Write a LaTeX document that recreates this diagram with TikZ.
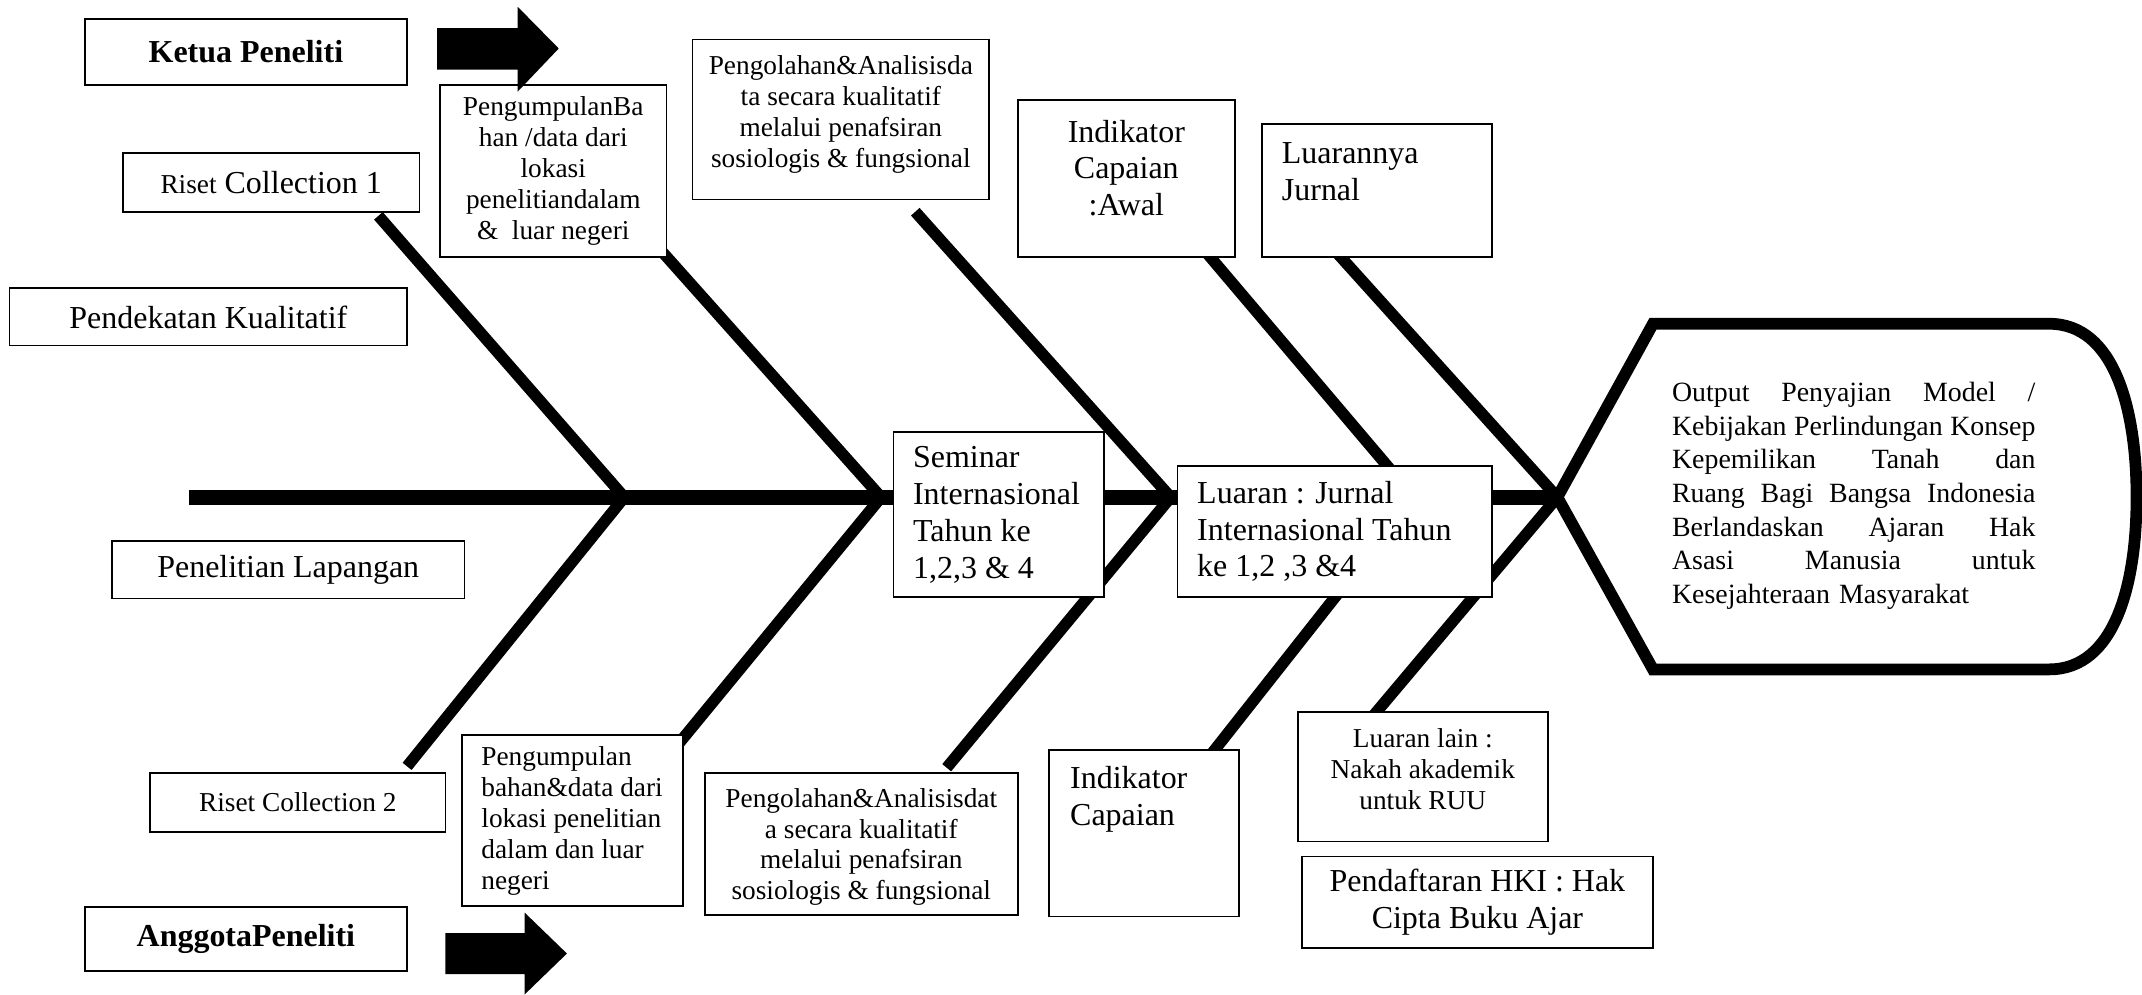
\documentclass[tikz,border=0pt]{standalone}
\usepackage{fontspec}
\setmainfont{Liberation Serif}
\newcommand\fntL{\fontsize{11.7pt}{13.5pt}\selectfont}
\newcommand\fntS{\fontsize{10pt}{11.3pt}\selectfont}
\newcommand\fntO{\fontsize{10.2pt}{12.3pt}\selectfont}
\newcommand\jline[1]{\leavevmode\hbox to 133pt{#1}}
\newcommand\bx[5]{\node[box, minimum width={(#4-#2)*0.5pt}, minimum height={(#5-#3)*0.5pt}] (#1) at ({(#2+#4)/2},{(#3+#5)/2}) {};}
\begin{document}
\begin{tikzpicture}[x=0.5pt,y=-0.5pt,
  box/.style={draw=black, line width=0.6pt, fill=white, inner sep=0pt},
  bone/.style={line width=4.2pt, line join=miter},
  spine/.style={line width=5.5pt},
  outline/.style={line width=4.3pt, fill=white, line join=miter},
  txtL/.style={inner sep=0pt, font=\fntL},
  txtS/.style={inner sep=0pt, font=\fntS},
  bigarrow/.style={fill=black, draw=none}]
\useasboundingbox (0,0) rectangle (1568,728);

% spine and junctions
\coordinate (S0) at (138,364);
\coordinate (J1) at (457,364);
\coordinate (J2) at (645,364);
\coordinate (J3) at (857,364);
\coordinate (J4) at (1035,364);
\coordinate (J5) at (1140,364);
% bone ends
\coordinate (U1) at (277,158);
\coordinate (U2) at (480,179);
\coordinate (U3) at (670,155);
\coordinate (U4) at (879,180);
\coordinate (U5) at (975,181);
\coordinate (L1) at (298,561);
\coordinate (L2) at (493,549);
\coordinate (L3) at (693,562);
\coordinate (L4) at (882,558);
\coordinate (L5) at (1001,529);

\draw[spine] (S0) -- (J5);
\draw[bone] (U1) -- (J1) -- (L1);
\draw[bone] (U2) -- (J2) -- (L2);
\draw[bone] (U3) -- (J3) -- (L3);
\draw[bone] (U4) -- (J4) -- (L4);
\draw[bone] (U5) -- (J5) -- (L5);

% boxes
\bx{ketua}{62}{14}{298}{62}
\node[txtL,font=\fntL\bfseries] at (ketua) {Ketua Peneliti};
\bx{riset1}{90}{112}{307}{155}
\node[txtL] at (riset1) {{\fntS Riset} Collection 1};
\bx{pend}{7}{211}{298}{253}
\node[txtL] at (pend) {Pendekatan Kualitatif};
\bx{lap}{82}{396}{340}{438}
\node[txtL] at (lap) {Penelitian Lapangan};
\bx{riset2}{110}{566}{326}{609}
\node[txtS] at (riset2) {Riset Collection 2};
\bx{anggota}{62}{664}{298}{711}
\node[txtL,font=\fntL\bfseries] at (anggota) {AnggotaPeneliti};
\bx{kump1}{322}{62}{488}{188}
\node[txtS,align=center] at (kump1) {PengumpulanBa\\han /data dari\\lokasi\\penelitiandalam\\\&\ \ luar negeri};
\bx{kump2}{338}{538}{500}{663}
\node[txtS,align=left,anchor=west] at (352,601) {Pengumpulan\\bahan\&data dari\\lokasi penelitian\\dalam dan luar\\negeri};
\bx{olah1}{507}{29}{724}{146}
\node[txtS,align=center] at (615.5,84) {Pengolahan\&Analisisda\\ta secara kualitatif\\melalui penafsiran\\sosiologis \& fungsional};
\bx{olah2}{516}{566}{745}{670}
\node[txtS,align=center] at (630.5,620) {Pengolahan\&Analisisdat\\a secara kualitatif\\melalui penafsiran\\sosiologis \& fungsional};
\bx{ind1}{745}{73}{904}{188}
\node[txtL,align=center] at (824.5,123) {Indikator\\Capaian\\:Awal};
\bx{jur}{924}{91}{1092}{188}
\node[txtL,align=left,anchor=west] at (938,126) {Luarannya\\Jurnal};
\bx{sem}{654}{316}{808}{437}
\node[txtL,align=left,anchor=west] at (668,377) {Seminar\\Internasional\\Tahun ke\\1,2,3 \& 4};
\bx{luar}{862}{341}{1092}{437}
\node[txtL,align=left,anchor=west] at (876,389) {Luaran : Jurnal\\Internasional Tahun\\ke 1,2 ,3 \&4};
\bx{ind2}{768}{549}{907}{671}
\node[txtL,align=left,anchor=west] at (783,585) {Indikator\\Capaian};
\bx{lain}{950}{521}{1133}{616}
\node[txtS,align=center] at (1041.5,563) {Luaran lain :\\Nakah akademik\\untuk RUU};
\bx{hki}{953}{627}{1210}{694}
\node[txtL,align=center] at (hki) {Pendaftaran HKI : Hak\\Cipta Buku Ajar};

% big arrows
\fill[bigarrow] (320,20.5) -- (379,20.5) -- (379,5) -- (409,35.5) -- (379,67) -- (379,51) -- (320,51) -- cycle;
\fill[bigarrow] (326,683) -- (384,683) -- (384,668) -- (415,698) -- (384,728) -- (384,713) -- (326,713) -- cycle;

% output head
\draw[outline] (J5) -- (1210,237) -- (1500,237) .. controls (1548,237) and (1564,300) .. (1564,364) .. controls (1564,428) and (1548,490) .. (1500,490) -- (1210,490) -- cycle;
\node[inner sep=0pt, font=\fntO, text width=133pt, align=left] (otext) at (1357,363)
  {\jline{Output\hfill Penyajian\hfill Model\hfill /}\\
   \jline{Kebijakan\hfill Perlindungan\hfill Konsep}\\
   \jline{Kepemilikan\hfill Tanah\hfill dan}\\
   \jline{Ruang\hfill Bagi\hfill Bangsa\hfill Indonesia}\\
   \jline{Berlandaskan\hfill Ajaran\hfill Hak}\\
   \jline{Asasi\hfill Manusia\hfill untuk}\\
   Kesejahteraan Masyarakat};
\end{tikzpicture}
\end{document}
